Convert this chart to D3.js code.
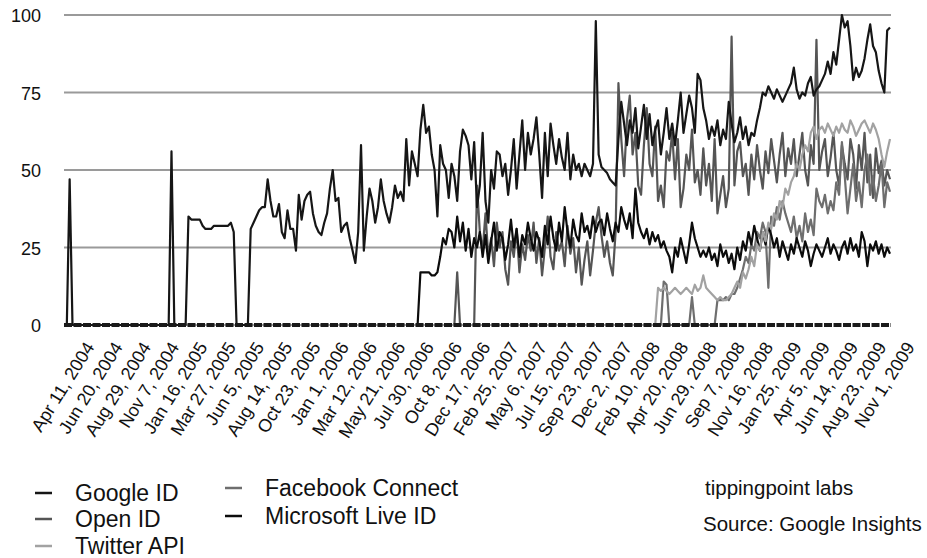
<!DOCTYPE html>
<html>
<head>
<meta charset="utf-8">
<script src="https://cdn.jsdelivr.net/npm/d3@7"></script>
<style>
  body { margin: 0; background: #fff; }
  text { font-family: "Liberation Sans", Arial, Helvetica, sans-serif; fill: #111; }
</style>
</head>
<body>
<svg width="927" height="558"></svg>
<script>
// weekly search interest, Apr 11 2004 -> mid Nov 2009 (Google Insights)
const tickLabels = ['Apr 11, 2004', 'Jun 20, 2004', 'Aug 29, 2004', 'Nov 7, 2004', 'Jan 16, 2005', 'Mar 27, 2005',
  'Jun 5, 2005', 'Aug 14, 2005', 'Oct 23, 2005', 'Jan 1, 2006', 'Mar 12, 2006', 'May 21, 2006', 'Jul 30, 2006',
  'Oct 8, 2006', 'Dec 17, 2006', 'Feb 25, 2007', 'May 6, 2007', 'Jul 15, 2007', 'Sep 23, 2007', 'Dec 2, 2007',
  'Feb 10, 2008', 'Apr 20, 2008', 'Jun 29, 2008', 'Sep 7, 2008', 'Nov 16, 2008', 'Jan 25, 2009', 'Apr 5, 2009',
  'Jun 14, 2009', 'Aug 23, 2009', 'Nov 1, 2009'];
const weeksPerTick = 10;
const yTicks = [0, 25, 50, 75, 100];

const googleId = [
  0,0,47,0,0,0,0,0,0,0, 0,0,0,0,0,0,0,0,0,0, 0,0,0,0,0,0,0,0,0,0, 0,0,0,0,0,0,0,0,56,0,
  0,0,0,0,35,34,34,34,34,32, 31,31,31,32,32,32,32,32,32,33, 30,0,0,0,0,0,31,33,35,37,
  38,38,47,40,35,35,39,30,28,37, 31,31,24,42,34,40,42,43,36,32, 30,29,33,36,44,50,40,41,30,32,
  33,28,24,20,30,58,24,35,44,40, 33,38,47,40,36,33,38,45,41,43, 40,60,45,56,52,48,63,71,62,64,
  55,50,35,58,52,50,41,52,48,40, 56,63,61,58,47,59,38,45,62,40, 33,50,44,56,55,48,52,42,50,60,
  44,55,66,50,62,55,60,67,55,41, 62,48,65,58,52,60,54,50,62,47, 55,50,52,48,52,50,48,52,98,55,
  51,50,49,47,46,45,60,72,65,58, 66,62,70,57,64,71,60,68,58,63, 66,55,62,70,60,65,58,66,75,62,
  68,74,70,62,81,79,70,66,60,64, 61,66,58,63,60,72,65,59,62,67, 60,64,58,62,61,66,70,75,74,77,
  75,73,76,74,72,74,76,78,83,76, 73,75,74,78,80,74,76,77,79,81, 85,81,88,84,92,100,96,98,90,79,
  83,80,82,86,92,97,90,88,82,78, 75,95,96];

const openId = [
  0,0,0,0,0,0,0,0,0,0, 0,0,0,0,0,0,0,0,0,0, 0,0,0,0,0,0,0,0,0,0, 0,0,0,0,0,0,0,0,0,0,
  0,0,0,0,0,0,0,0,0,0, 0,0,0,0,0,0,0,0,0,0, 0,0,0,0,0,0,0,0,0,0, 0,0,0,0,0,0,0,0,0,0,
  0,0,0,0,0,0,0,0,0,0, 0,0,0,0,0,0,0,0,0,0, 0,0,0,0,0,0,0,0,0,0, 0,0,0,0,0,0,0,0,0,0,
  0,0,0,0,0,0,0,0,0,0, 0,0,0,0,0,0,0,0,0,17, 0,0,0,0,0,0,45,30,24,36,
  22,28,19,33,25,30,18,13,27,22, 31,17,26,21,29,24,33,20,28,16, 25,35,22,18,30,24,27,19,32,23,
  28,17,25,13,21,27,16,24,33,38, 29,22,27,20,16,30,78,60,48,66, 74,55,62,45,42,58,70,52,48,64,
  40,45,38,56,53,62,47,60,38,44, 55,50,63,46,50,42,57,45,52,40, 60,36,42,48,38,44,93,45,56,59,
  48,52,42,55,47,58,50,44,56,49, 60,53,46,55,62,48,57,52,60,48, 55,62,50,45,58,52,92,50,56,60,
  48,54,62,50,45,58,52,47,60,55, 44,58,50,62,46,55,41,57,49,53, 45,50,47];

const twitterApi = [
  0,0,0,0,0,0,0,0,0,0, 0,0,0,0,0,0,0,0,0,0, 0,0,0,0,0,0,0,0,0,0, 0,0,0,0,0,0,0,0,0,0,
  0,0,0,0,0,0,0,0,0,0, 0,0,0,0,0,0,0,0,0,0, 0,0,0,0,0,0,0,0,0,0, 0,0,0,0,0,0,0,0,0,0,
  0,0,0,0,0,0,0,0,0,0, 0,0,0,0,0,0,0,0,0,0, 0,0,0,0,0,0,0,0,0,0, 0,0,0,0,0,0,0,0,0,0,
  0,0,0,0,0,0,0,0,0,0, 0,0,0,0,0,0,0,0,0,0, 0,0,0,0,0,0,0,0,0,0, 0,0,0,0,0,0,0,0,0,0,
  0,0,0,0,0,0,0,0,0,0, 0,0,0,0,0,0,0,0,0,0, 0,0,0,0,0,0,0,0,0,0, 0,0,0,0,0,0,0,0,0,0,
  0,0,0,0,0,0,0,0,0,0,
  12,11,12,11,10,11,12,11,10,11, 12,11,10,13,11,12,16,12,11,10, 9,8,9,8,8,9,10,12,14,12,
  17,15,18,22,19,26,24,30,27,33, 31,36,34,40,38,44,42,46,48,52, 50,55,58,56,62,64,60,63,64,62,
  65,63,61,64,62,65,63,62,66,64, 61,63,65,66,64,62,65,63,60,55, 51,56,60];

const facebookConnect = [
  0,0,0,0,0,0,0,0,0,0, 0,0,0,0,0,0,0,0,0,0, 0,0,0,0,0,0,0,0,0,0, 0,0,0,0,0,0,0,0,0,0,
  0,0,0,0,0,0,0,0,0,0, 0,0,0,0,0,0,0,0,0,0, 0,0,0,0,0,0,0,0,0,0, 0,0,0,0,0,0,0,0,0,0,
  0,0,0,0,0,0,0,0,0,0, 0,0,0,0,0,0,0,0,0,0, 0,0,0,0,0,0,0,0,0,0, 0,0,0,0,0,0,0,0,0,0,
  0,0,0,0,0,0,0,0,0,0, 0,0,0,0,0,0,0,0,0,0, 0,0,0,0,0,0,0,0,0,0, 0,0,0,0,0,0,0,0,0,0,
  0,0,0,0,0,0,0,0,0,0, 0,0,0,0,0,0,0,0,0,0, 0,0,0,0,0,0,0,0,0,0, 0,0,0,0,0,0,0,0,0,0,
  0,0,0,0,0,0,0,0,0,0,
  0,0,14,13,0,0,0,0,0,0, 0,0,9,0,0,0,0,0,0,0, 0,8,8,8,9,8,10,10,12,15,
  18,22,20,26,24,30,28,33,30,12, 35,32,38,34,40,36,33,30,35,28, 32,27,36,30,34,29,44,40,38,42,
  36,40,37,46,42,59,48,36,44,52, 40,46,38,50,55,42,48,40,45,52, 38,46,43];

const microsoftLiveId = [
  0,0,0,0,0,0,0,0,0,0, 0,0,0,0,0,0,0,0,0,0, 0,0,0,0,0,0,0,0,0,0, 0,0,0,0,0,0,0,0,0,0,
  0,0,0,0,0,0,0,0,0,0, 0,0,0,0,0,0,0,0,0,0, 0,0,0,0,0,0,0,0,0,0, 0,0,0,0,0,0,0,0,0,0,
  0,0,0,0,0,0,0,0,0,0, 0,0,0,0,0,0,0,0,0,0, 0,0,0,0,0,0,0,0,0,0, 0,0,0,0,0,0,0,0,0,0,
  0,0,0,0,0,0,17,17,17,17, 16,16,17,22,28,26,31,30,25,35, 27,33,24,31,22,28,25,30,22,29,
  20,27,33,24,30,28,21,26,34,25, 31,22,29,26,33,28,24,30,27,22, 32,26,35,28,24,33,27,38,30,25,
  34,29,27,36,30,32,28,35,30,33, 34,29,36,31,27,33,30,38,34,31, 36,28,44,33,30,28,31,26,30,27,
  29,25,27,24,22,17,25,22,28,24, 20,26,33,28,25,22,24,22,25,21, 23,19,26,22,24,20,23,18,25,21,
  27,24,30,26,32,28,24,30,26,32, 29,25,28,22,27,24,21,26,23,28, 25,22,27,24,19,23,26,24,22,25,
  28,23,26,24,21,25,27,23,28,24, 26,22,30,27,19,26,24,27,23,26, 22,25,23];

// legend order and colours
const series = [
  { name: 'Google ID', values: googleId, color: '#161616', col: 0, row: 0 },
  { name: 'Open ID', values: openId, color: '#555555', col: 0, row: 1 },
  { name: 'Twitter API', values: twitterApi, color: '#a2a2a2', col: 0, row: 2 },
  { name: 'Facebook Connect', values: facebookConnect, color: '#6e6e6e', col: 1, row: 0 },
  { name: 'Microsoft Live ID', values: microsoftLiveId, color: '#0c0c0c', col: 1, row: 1 }
];
const drawOrder = ['Open ID', 'Facebook Connect', 'Microsoft Live ID', 'Twitter API', 'Google ID'];

const svg = d3.select('svg');
const plotLeft = 64, plotRight = 891, plotTop = 15, plotBottom = 325;
const nWeeks = googleId.length;

const x = d3.scaleLinear().domain([0, nWeeks - 1]).range([plotLeft, plotRight - 1]);
const y = d3.scaleLinear().domain([0, 100]).range([plotBottom, plotTop]);

// gridlines
svg.append('g').selectAll('line')
  .data(yTicks.filter(t => t > 0))
  .join('line')
  .attr('x1', plotLeft).attr('x2', plotRight)
  .attr('y1', d => y(d)).attr('y2', d => y(d))
  .attr('stroke', '#9a9a9a').attr('stroke-width', 2);

// y labels
svg.append('g').selectAll('text')
  .data(yTicks)
  .join('text')
  .attr('x', 41).attr('y', d => y(d) + 1)
  .attr('text-anchor', 'end')
  .attr('dominant-baseline', 'central')
  .attr('font-size', 18)
  .text(d => d);

// lines
const line = d3.line().x((d, i) => x(i)).y(d => y(d));
drawOrder.forEach(name => {
  const s = series.find(d => d.name === name);
  svg.append('path')
    .datum(s.values)
    .attr('fill', 'none')
    .attr('stroke', s.color)
    .attr('stroke-width', 2.2)
    .attr('stroke-linejoin', 'round')
    .attr('d', line);
});

// baseline where all series sit at zero
svg.append('line')
  .attr('x1', plotLeft).attr('x2', plotRight)
  .attr('y1', y(0)).attr('y2', y(0))
  .attr('stroke', '#1a1a1a').attr('stroke-width', 4)
  .attr('stroke-dasharray', '8,1.5');

// x labels, rotated
svg.append('g').selectAll('text')
  .data(tickLabels)
  .join('text')
  .attr('transform', (d, i) => `translate(${x(i * weeksPerTick) + 31},${plotBottom + 22}) rotate(-58)`)
  .attr('text-anchor', 'end')
  .attr('font-size', 18)
  .text(d => d);

// legend
const legend = svg.append('g');
const colX = [35, 225], rowY = [[493, 519, 546], [488, 516]];
series.forEach(s => {
  const lx = colX[s.col], ly = rowY[s.col][s.row];
  legend.append('line')
    .attr('x1', lx).attr('x2', lx + 17)
    .attr('y1', ly).attr('y2', ly)
    .attr('stroke', s.color).attr('stroke-width', 2.5);
  legend.append('text')
    .attr('x', lx + 40).attr('y', ly)
    .attr('dominant-baseline', 'central')
    .attr('font-size', 23)
    .text(s.name);
});

svg.append('text').attr('x', 705).attr('y', 487)
  .attr('dominant-baseline', 'central').attr('font-size', 20.5)
  .text('tippingpoint labs');
svg.append('text').attr('x', 703).attr('y', 523)
  .attr('dominant-baseline', 'central').attr('font-size', 20.5)
  .text('Source: Google Insights');
</script>
</body>
</html>
